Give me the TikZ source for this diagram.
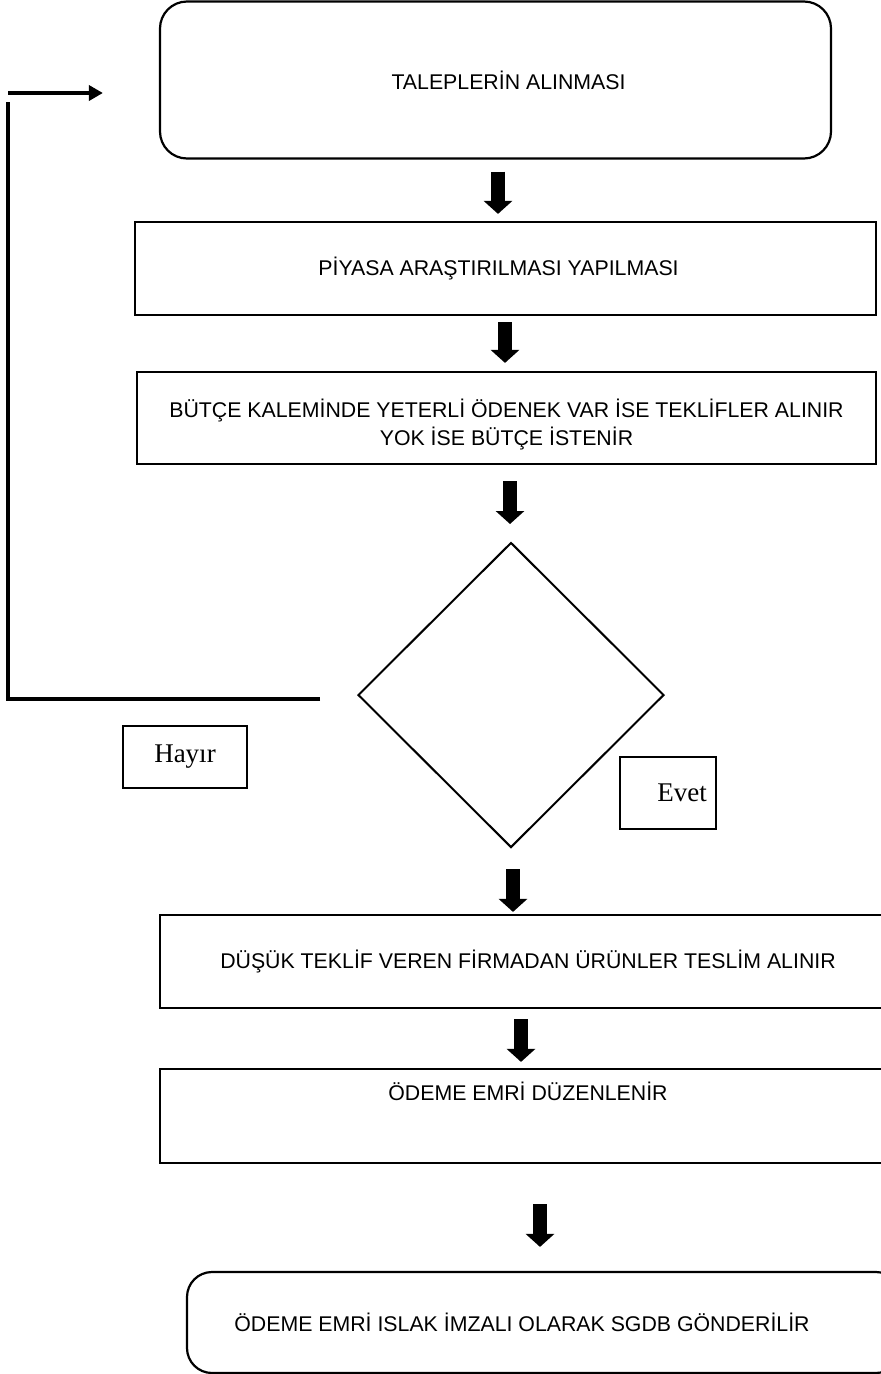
\documentclass[tikz,border=0pt]{standalone}
\usepackage{fontspec}
\setmainfont{Liberation Sans}
\newfontfamily\tnr{Liberation Serif}
\usetikzlibrary{arrows.meta,shapes.geometric}
\begin{document}
\begin{tikzpicture}[x=1pt,y=-1pt,
  box/.style={draw, line width=2.2pt, rectangle, inner sep=0pt, font=\fontsize{21.3}{28}\selectfont, align=center},
  rbox/.style={box, rounded corners=27pt},
  lbl/.style={draw, line width=2pt, rectangle, inner sep=0pt, font=\tnr\fontsize{27}{30}\selectfont},
  blk/.style={line width=14pt, -{Triangle[width=28pt,length=13pt]}},
  loopline/.style={line width=3.5pt}]
\useasboundingbox (0,0) rectangle (881,1374);
\clip (0,0) rectangle (881,1374);
\node[rbox, minimum width=671pt, minimum height=157pt] (b1) at (495.5,80) {\hspace*{26pt}TALEPLERİN ALINMASI};
\node[box, minimum width=741pt, minimum height=93pt] (b2) at (505.5,268.5) {PİYASA ARAŞTIRILMASI YAPILMASI\hspace*{14pt}};
\node[box, minimum width=739pt, minimum height=92pt] (b3) at (506.5,418) {\rule{0pt}{31pt}BÜTÇE KALEMİNDE YETERLİ ÖDENEK VAR İSE TEKLİFLER ALINIR\\YOK İSE BÜTÇE İSTENİR};
\node[diamond, draw, line width=2pt, aspect=1, minimum width=306pt, minimum height=305pt, inner sep=0pt] (d) at (511,695) {};
\node[lbl, minimum width=124pt, minimum height=62pt] (no) at (185,757) {Hayır};
\node[lbl, minimum width=96pt, minimum height=72pt] (yes) at (668,793) {\hspace*{28pt}Evet};
\node[box, minimum width=736pt, minimum height=93pt] (b4) at (528,961.5) {DÜŞÜK TEKLİF VEREN FİRMADAN ÜRÜNLER TESLİM ALINIR};
\node[box, minimum width=736pt, minimum height=94pt, text height=16pt, text depth=48pt] (b5) at (528,1116) {ÖDEME EMRİ DÜZENLENİR};
\node[rbox, rounded corners=25pt, minimum width=714pt, minimum height=101pt] (b6) at (544,1322.5) {ÖDEME EMRİ ISLAK İMZALI OLARAK SGDB GÖNDERİLİR\hspace*{44pt}};
% block arrows
\draw[blk] ([xshift=2.5pt,yshift=-12pt]b1.south) -- ([xshift=-7.5pt,yshift=7pt]b2.north);
\draw[blk] ([xshift=-0.5pt,yshift=-6pt]b2.south) -- ([xshift=-1.5pt,yshift=8pt]b3.north);
\draw[blk] ([xshift=3.5pt,yshift=-16pt]b3.south) -- ([xshift=-1pt,yshift=17.5pt]d.north);
\draw[blk] ([xshift=2pt,yshift=-20.5pt]d.south) -- ([xshift=-15pt,yshift=2pt]b4.north);
\draw[blk] ([xshift=-7pt,yshift=-10pt]b4.south) -- ([xshift=-7pt,yshift=6pt]b5.north);
\draw[blk] ([xshift=12pt,yshift=-40pt]b5.south) -- ([xshift=-4pt,yshift=24pt]b6.north);
% loop back
\coordinate (lb) at (320,699);
\coordinate (lc) at (8,699);
\coordinate (ld) at (8,102);
\coordinate (lt) at (8,93);
\draw[loopline] (lb) -- (lc) -- (ld);
\draw[loopline, -{Triangle[width=15pt,length=14pt]}] (lt) -- ([xshift=-56pt]b1.west |- lt);
\end{tikzpicture}
\end{document}
